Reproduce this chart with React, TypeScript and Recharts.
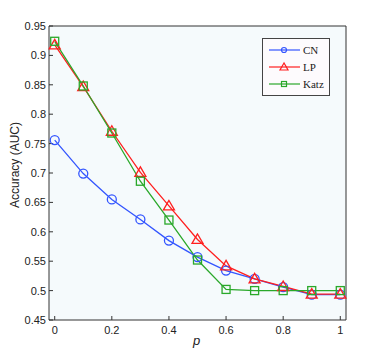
import React from 'react'
import { LineChart, Line, XAxis, YAxis, CartesianGrid } from 'recharts'

const pValues = [0, 0.1, 0.2, 0.3, 0.4, 0.5, 0.6, 0.7, 0.8, 0.9, 1]
const cnAuc = [0.756, 0.699, 0.655, 0.621, 0.585, 0.557, 0.534, 0.52, 0.506, 0.493, 0.493]
const lpAuc = [0.918, 0.847, 0.771, 0.701, 0.644, 0.587, 0.542, 0.52, 0.507, 0.494, 0.494]
const katzAuc = [0.924, 0.848, 0.768, 0.686, 0.62, 0.552, 0.502, 0.5, 0.5, 0.5, 0.5]

const xTicks = [0, 0.2, 0.4, 0.6, 0.8, 1]
const yTicks = [0.45, 0.5, 0.55, 0.6, 0.65, 0.7, 0.75, 0.8, 0.85, 0.9, 0.95]

const data = pValues.map((p, i) => ({
  p,
  cn: cnAuc[i],
  lp: lpAuc[i],
  katz: katzAuc[i],
}))

const BLUE = '#3355ff'
const RED = '#ff1f1f'
const GREEN = '#2aa82a'
const AXIS = '#333'
const FONT = 'Liberation Sans, Arial, sans-serif'

const Circle = ({ cx, cy }: any) =>
  cx == null ? null : (
    <circle cx={cx} cy={cy} r={4.5} fill='none' stroke={BLUE} strokeWidth={1.3} />
  )

const Triangle = ({ cx, cy }: any) =>
  cx == null ? null : (
    <polygon
      points={`${cx},${cy - 5.5} ${cx - 5.5},${cy + 4} ${cx + 5.5},${cy + 4}`}
      fill='none'
      stroke={RED}
      strokeWidth={1.3}
    />
  )

const Square = ({ cx, cy }: any) =>
  cx == null ? null : (
    <rect x={cx - 4} y={cy - 4} width={8} height={8} fill='none' stroke={GREEN} strokeWidth={1.3} />
  )

const legendItems = [
  { name: 'CN', color: BLUE, shape: 'circle' },
  { name: 'LP', color: RED, shape: 'triangle' },
  { name: 'Katz', color: GREEN, shape: 'square' },
]

function LegendBox() {
  return (
    <svg width={68} height={58} style={{ display: 'block' }}>
      <rect x={0.5} y={0.5} width={67} height={57} fill='#fdfbfd' stroke='#444' />
      {legendItems.map((item, i) => {
        const y = 12 + i * 17
        const cx = 22
        return (
          <g key={item.name}>
            <line x1={7} x2={38} y1={y} y2={y} stroke={item.color} strokeWidth={1.2} />
            {item.shape === 'circle' && (
              <circle cx={cx} cy={y} r={2.5} fill='none' stroke={item.color} strokeWidth={1.2} />
            )}
            {item.shape === 'triangle' && (
              <polygon
                points={`${cx},${y - 4} ${cx - 4},${y + 3} ${cx + 4},${y + 3}`}
                fill='none'
                stroke={item.color}
                strokeWidth={1.2}
              />
            )}
            {item.shape === 'square' && (
              <rect x={cx - 2.5} y={y - 2.5} width={5} height={5} fill='none' stroke={item.color} strokeWidth={1.2} />
            )}
            <text x={41} y={y + 4} fontSize={11} fontFamily='Liberation Serif, Times New Roman, serif' fill='#222'>
              {item.name}
            </text>
          </g>
        )
      })}
    </svg>
  )
}

export default function App() {
  return (
    <div style={{ position: 'absolute', left: 0, top: 0, width: 382, height: 360, background: '#fff' }}>
      <LineChart
        width={382}
        height={360}
        data={data}
        margin={{ top: 25, right: 35, bottom: 0, left: 0 }}
      >
        <CartesianGrid horizontal={false} vertical={false} fill='#f5fafc' stroke='none' />
        <XAxis
          dataKey='p'
          type='number'
          domain={[-0.02, 1.02]}
          ticks={xTicks}
          height={40}
          stroke={AXIS}
          tickSize={-4}
          tickMargin={10}
          tick={{ fontSize: 11, fill: '#222', fontFamily: FONT }}
          label={{
            content: ({ viewBox }: any) => (
              <text
                x={viewBox.x + viewBox.width / 2 - 1}
                y={345}
                textAnchor='middle'
                fontSize={13}
                fontStyle='italic'
                fontFamily={FONT}
                fill='#222'
              >
                p
              </text>
            ),
          }}
        />
        <XAxis
          xAxisId='top'
          orientation='top'
          dataKey='p'
          type='number'
          domain={[-0.02, 1.02]}
          ticks={xTicks}
          height={1}
          stroke={AXIS}
          tickSize={-4}
          tick={false}
        />
        <YAxis
          type='number'
          domain={[0.45, 0.95]}
          ticks={yTicks}
          width={49}
          stroke={AXIS}
          tickSize={-4}
          tickMargin={7}
          tick={{ fontSize: 11, fill: '#222', fontFamily: FONT }}
          label={{
            content: () => (
              <text
                transform='translate(19,165) rotate(-90)'
                textAnchor='middle'
                fontSize={12}
                fontFamily={FONT}
                fill='#222'
              >
                Accuracy (AUC)
              </text>
            ),
          }}
        />
        <YAxis
          yAxisId='right'
          orientation='right'
          type='number'
          domain={[0.45, 0.95]}
          ticks={yTicks}
          width={1}
          stroke={AXIS}
          tickSize={-4}
          tick={false}
        />
        <Line
          dataKey='cn'
          name='CN'
          stroke={BLUE}
          strokeWidth={1.3}
          dot={<Circle />}
          isAnimationActive={false}
        />
        <Line
          dataKey='lp'
          name='LP'
          stroke={RED}
          strokeWidth={1.3}
          dot={<Triangle />}
          isAnimationActive={false}
        />
        <Line
          dataKey='katz'
          name='Katz'
          stroke={GREEN}
          strokeWidth={1.3}
          dot={<Square />}
          isAnimationActive={false}
        />
      </LineChart>
      <div style={{ position: 'absolute', left: 262, top: 38 }}>
        <LegendBox />
      </div>
    </div>
  )
}
